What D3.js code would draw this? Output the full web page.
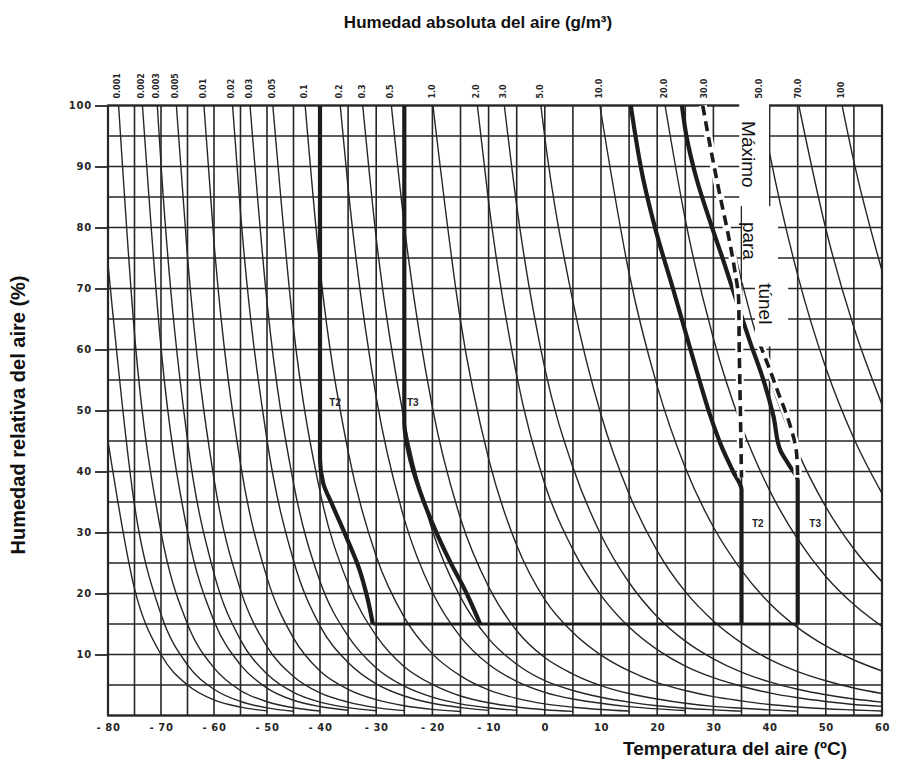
<!DOCTYPE html>
<html>
<head>
<meta charset="utf-8">
<script src="https://cdn.jsdelivr.net/npm/d3@7"></script>
<style>
  body { margin: 0; background: #fff; }
  svg { display: block; }
</style>
</head>
<body>
<svg id="chart" width="897" height="765"></svg>
<script>
// ---------- axes ----------
const tempTicks = [-80, -70, -60, -50, -40, -30, -20, -10, 0, 10, 20, 30, 40, 50, 60];
const rhTicks = [10, 20, 30, 40, 50, 60, 70, 80, 90, 100];

// ---------- constant absolute humidity curves: [temperature ºC, relative humidity %] ----------
const ah00003 = [[-80,45],[-75,20.8],[-70,10],[-65,5],[-60,2.55],[-55,1.37],[-50,0.75]];
const ah00005 = [[-80,74],[-75,34.5],[-70,16.6],[-65,8.3],[-60,4.3],[-55,2.3],[-50,1.25],[-45,0.7]];
const ah0001 = [[-78.0,100],[-75,62.6],[-70,30.1],[-65,15.0],[-60,7.8],[-55,4.1],[-50,2.26],[-45,1.27],[-40,0.73]];
const ah0002 = [[-73.5,100],[-70,60.3],[-65,30.1],[-60,15.5],[-55,8.3],[-50,4.5],[-45,2.5],[-40,1.47],[-35,0.87]];
const ah0003 = [[-70.7,100],[-70,90.4],[-65,45.1],[-60,23.3],[-55,12.4],[-50,6.8],[-45,3.8],[-40,2.2],[-35,1.3],[-30,0.78]];
const ah0005 = [[-67.1,100],[-65,75.2],[-60,38.8],[-55,20.6],[-50,11.3],[-45,6.4],[-40,3.7],[-35,2.2],[-30,1.3],[-25,0.8]];
const ah001 = [[-61.9,100],[-60,77.6],[-55,41.3],[-50,22.6],[-45,12.7],[-40,7.3],[-35,4.3],[-30,2.6],[-25,1.6],[-20,1.0],[-15,0.65]];
const ah002 = [[-56.5,100],[-55,82.5],[-50,45.2],[-45,25.4],[-40,14.7],[-35,8.7],[-30,5.2],[-25,3.2],[-20,2.0],[-15,1.3],[-10,0.84]];
const ah003 = [[-53.2,100],[-50,67.8],[-45,38.1],[-40,22.0],[-35,13.0],[-30,7.8],[-25,4.8],[-20,3.0],[-15,1.9],[-10,1.26],[-5,0.84]];
const ah005 = [[-48.9,100],[-45,63.5],[-40,36.7],[-35,21.6],[-30,13.1],[-25,8.0],[-20,5.1],[-15,3.2],[-10,2.1],[-5,1.4],[0,0.95],[5,0.68]];
const ah01 = [[-42.8,100],[-40,73.3],[-35,43.3],[-30,26.1],[-25,16.1],[-20,10.1],[-15,6.5],[-10,4.2],[-5,2.8],[0,1.9],[5,1.36],[10,0.99],[15,0.73]];
const ah02 = [[-36.4,100],[-35,86.5],[-30,52.2],[-25,32.2],[-20,20.2],[-15,12.9],[-10,8.4],[-5,5.6],[0,3.8],[5,2.7],[10,2.0],[15,1.45],[20,1.08],[25,0.81]];
const ah03 = [[-32.4,100],[-30,78.3],[-25,48.3],[-20,30.3],[-15,19.4],[-10,12.6],[-5,8.4],[0,5.7],[5,4.1],[10,3.0],[15,2.2],[20,1.6],[25,1.2],[30,0.93],[35,0.71]];
const ah05 = [[-27.3,100],[-25,80.4],[-20,50.5],[-15,32.3],[-10,21.1],[-5,13.9],[0,9.5],[5,6.8],[10,4.9],[15,3.6],[20,2.7],[25,2.0],[30,1.5],[35,1.2],[40,0.92],[45,0.72]];
const ah1 = [[-19.9,100],[-15,64.7],[-10,42.1],[-5,27.9],[0,19.0],[5,13.6],[10,9.9],[15,7.3],[20,5.4],[25,4.1],[30,3.1],[35,2.4],[40,1.8],[45,1.4],[50,1.1],[55,0.91],[60,0.73]];
const ah2 = [[-12.0,100],[-10,84.2],[-5,55.7],[0,37.9],[5,27.2],[10,19.7],[15,14.5],[20,10.8],[25,8.1],[30,6.2],[35,4.8],[40,3.7],[45,2.9],[50,2.3],[55,1.8],[60,1.5]];
const ah3 = [[-7.2,100],[-5,83.6],[0,56.9],[5,40.7],[10,29.6],[15,21.8],[20,16.2],[25,12.2],[30,9.3],[35,7.1],[40,5.5],[45,4.3],[50,3.4],[55,2.7],[60,2.2]];
const ah5 = [[-0.7,100],[0,94.8],[5,67.9],[10,49.3],[15,36.3],[20,27.0],[25,20.3],[30,15.5],[35,11.9],[40,9.2],[45,7.2],[50,5.7],[55,4.5],[60,3.6]];
const ah10 = [[9.8,100],[15,72.5],[20,54.0],[25,40.6],[30,30.9],[35,23.8],[40,18.4],[45,14.4],[50,11.4],[55,9.1],[60,7.3]];
const ah20 = [[21.4,100],[25,81.3],[30,61.8],[35,47.5],[40,36.9],[45,28.9],[50,22.8],[55,18.2],[60,14.6]];
const ah30 = [[28.6,100],[30,92.8],[35,71.3],[40,55.3],[45,43.3],[50,34.2],[55,27.3],[60,21.9]];
const ah50 = [[38.4,100],[40,92.2],[45,72.2],[50,57.0],[55,45.4],[60,36.4]];
const ah70 = [[45.2,100],[50,79.8],[55,63.6],[60,51.0]];
const ah100 = [[52.9,100],[55,90.8],[60,72.9]];

const absCurves = [ah00003, ah00005, ah0001, ah0002, ah0003, ah0005, ah001, ah002, ah003, ah005,
                   ah01, ah02, ah03, ah05, ah1, ah2, ah3, ah5, ah10, ah20, ah30, ah50, ah70, ah100];
const absLabels = ["", "", "0.001", "0.002", "0.003", "0.005", "0.01", "0.02", "0.03", "0.05",
                   "0.1", "0.2", "0.3", "0.5", "1.0", "2.0", "3.0", "5.0", "10.0", "20.0", "30.0", "50.0", "70.0", "100"];

// ---------- T2 / T3 envelopes ----------
const zoneT2Left = [[-40,100],[-40,42],[-39.4,38],[-37.8,34.5],[-35.2,29],[-33.2,24.5],[-31.5,19],[-30.6,15]];
const zoneT3Left = [[-25,100],[-25,48],[-24.2,43],[-22.3,37],[-19.9,31.3],[-16.9,25.3],[-13.8,19.8],[-11.5,15]];
const zoneFloor = [[-30.6,15],[45,15]];
const zoneT2Right = [[35,15],[35,37],[33.5,40],[31.5,44],[29.5,49],[27.5,55],[25.3,62],[22.8,70],[19.9,79],[17.5,88],[15.3,100]];
const zoneT3Right = [[45,15],[45,38.5],[43.5,41],[41.9,43.5],[40.7,49],[38.9,55],[36.5,61.3],[34.1,68],[31.8,74.5],[29.4,81],[27,88],[25.2,95],[24.4,100]];
// tunnel maximum (dashed)
const tunnelT2 = [[28.1,100],[29.5,93],[31,86],[32.6,79],[33.8,73],[34.5,68],[34.6,60],[34.8,50],[35,39]];
const tunnelT3 = [[38.2,61],[39.7,57.5],[41.5,53],[43.6,47.7],[44.8,43],[45,39]];

const zoneLabels = [["T2", -37.3, 51.3], ["T3", -23.5, 51.3], ["T2", 37.9, 31.4], ["T3", 48.1, 31.4]];
// label panel: [tMin, tMax, rhMin, rhMax]
const notePanels = [[34.6, 39.9, 83.5, 101], [35.1, 41.5, 71, 83.5], [37.4, 43.3, 60.5, 71]];
const noteWords = [["Máximo", 36.3, 92], ["para", 36.5, 77.8], ["túnel", 39.3, 67.5]];

// ---------- scales ----------
const x = d3.scaleLinear().domain([-80, -40, 60]).range([108, 320, 882]);
const y = d3.scaleLinear().domain([0, 100]).range([715.5, 105.5]);
const ink = "#262626";

const svg = d3.select("#chart");
svg.append("rect").attr("width", 897).attr("height", 765).attr("fill", "#fff");

svg.append("clipPath").attr("id", "plot-clip")
  .append("rect")
  .attr("x", x(-80)).attr("y", y(100))
  .attr("width", x(60) - x(-80)).attr("height", y(0) - y(100));

// grid
const grid = svg.append("g").attr("stroke", ink).attr("stroke-width", 1.6);
grid.selectAll("line.v").data(d3.range(-80, 61, 5)).join("line")
  .attr("x1", d => x(d)).attr("x2", d => x(d))
  .attr("y1", y(100)).attr("y2", y(0));
grid.selectAll("line.h").data(d3.range(0, 101, 5)).join("line")
  .attr("x1", x(-80)).attr("x2", x(60))
  .attr("y1", d => y(d)).attr("y2", d => y(d));

// absolute humidity curves
const smooth = d3.line().x(d => x(d[0])).y(d => y(d[1])).curve(d3.curveMonotoneX);
svg.append("g").attr("clip-path", "url(#plot-clip)")
  .selectAll("path").data(absCurves).join("path")
  .attr("d", smooth)
  .attr("fill", "none").attr("stroke", ink).attr("stroke-width", 1.4);

// frame
svg.append("rect")
  .attr("x", x(-80)).attr("y", y(100))
  .attr("width", x(60) - x(-80)).attr("height", y(0) - y(100))
  .attr("fill", "none").attr("stroke", ink).attr("stroke-width", 2.2);

// y axis
const yAxis = svg.append("g").attr("transform", `translate(${x(-80)},0)`)
  .call(d3.axisLeft(y).tickValues(rhTicks).tickSize(13).tickPadding(3));
yAxis.select(".domain").remove();
yAxis.selectAll(".tick line").attr("stroke", ink).attr("stroke-width", 1.8);
yAxis.selectAll(".tick text")
  .attr("fill", ink).style("font-family", "'DejaVu Sans', sans-serif")
  .style("font-weight", "bold").style("font-size", "10px").style("letter-spacing", "0.8px");

// x axis
const xAxis = svg.append("g").attr("transform", `translate(0,${y(0)})`)
  .call(d3.axisBottom(x).tickValues(tempTicks).tickSize(0).tickPadding(8)
    .tickFormat(d => d < 0 ? "- " + Math.abs(d) : String(d)));
xAxis.select(".domain").remove();
xAxis.selectAll(".tick text")
  .attr("fill", ink).style("font-family", "'DejaVu Sans', sans-serif")
  .style("font-weight", "bold").style("font-size", "10px").style("letter-spacing", "0.6px");

// T2 / T3 envelopes (x follows RH, so vertical runs stay straight)
const bend = d3.line().x(d => x(d[0])).y(d => y(d[1])).curve(d3.curveMonotoneY);
const straight = d3.line().x(d => x(d[0])).y(d => y(d[1]));
const envelopes = svg.append("g").attr("fill", "none").attr("stroke", "#1c1c1c")
  .attr("stroke-linejoin", "round").attr("stroke-linecap", "butt");
envelopes.selectAll("path.z").data([zoneT2Left, zoneT3Left, zoneT2Right, zoneT3Right]).join("path")
  .attr("d", bend).attr("stroke-width", 4.2);
envelopes.append("path").attr("d", straight(zoneFloor)).attr("stroke-width", 3.2);

// tunnel maximum, dashed with white halo
const tunnel = svg.append("g").attr("fill", "none");
tunnel.selectAll("path.halo").data([tunnelT2, tunnelT3]).join("path")
  .attr("d", bend).attr("stroke", "#fff").attr("stroke-width", 8);
tunnel.selectAll("path.dash").data([tunnelT2, tunnelT3]).join("path")
  .attr("d", bend).attr("stroke", "#1c1c1c").attr("stroke-width", 3.6)
  .attr("stroke-dasharray", "10,6");

// note panel
svg.append("g").selectAll("rect").data(notePanels).join("rect")
  .attr("x", d => x(d[0])).attr("y", d => y(d[3]))
  .attr("width", d => x(d[1]) - x(d[0])).attr("height", d => y(d[2]) - y(d[3]))
  .attr("fill", "#fff");
svg.append("g").selectAll("text").data(noteWords).join("text")
  .attr("transform", d => `translate(${x(d[1])},${y(d[2])}) rotate(90)`)
  .attr("text-anchor", "middle").attr("dy", "0.35em")
  .style("font-family", "'Liberation Sans', Arial, sans-serif").style("font-size", "19px")
  .attr("fill", "#111").text(d => d[0]);

// zone labels
svg.append("g").selectAll("text").data(zoneLabels).join("text")
  .attr("x", d => x(d[1])).attr("y", d => y(d[2]))
  .attr("text-anchor", "middle").attr("dy", "0.35em")
  .style("font-family", "'Liberation Sans Narrow', 'Liberation Sans', sans-serif")
  .style("font-weight", "bold").style("font-size", "10px")
  .attr("fill", ink).text(d => d[0]);

// absolute humidity labels at the saturation line
svg.append("g").selectAll("text")
  .data(absCurves.map((c, i) => ({ t: c[0][0], rh: c[0][1], label: absLabels[i] }))
    .filter(d => d.label !== "" && d.rh >= 100))
  .join("text")
  .attr("transform", d => `translate(${x(d.t) - 1},${y(100) - 7}) rotate(-90)`)
  .attr("text-anchor", "start").attr("dy", "0.35em")
  .style("font-family", "'DejaVu Sans', sans-serif").style("font-weight", "bold")
  .style("font-size", "8px").attr("fill", ink).text(d => d.label);

// titles
const titleFont = "'Liberation Sans', Arial, sans-serif";
svg.append("text").attr("x", 478).attr("y", 28).attr("text-anchor", "middle")
  .style("font-family", titleFont).style("font-weight", "bold").style("font-size", "17px")
  .attr("fill", "#111").text("Humedad absoluta del aire (g/m³)");
svg.append("text").attr("transform", "translate(25,415) rotate(-90)").attr("text-anchor", "middle")
  .style("font-family", titleFont).style("font-weight", "bold").style("font-size", "20px")
  .attr("fill", "#111").text("Humedad relativa del aire (%)");
svg.append("text").attr("x", 735).attr("y", 755).attr("text-anchor", "middle")
  .style("font-family", titleFont).style("font-weight", "bold").style("font-size", "19px")
  .attr("fill", "#111").text("Temperatura del aire (ºC)");
</script>
</body>
</html>
